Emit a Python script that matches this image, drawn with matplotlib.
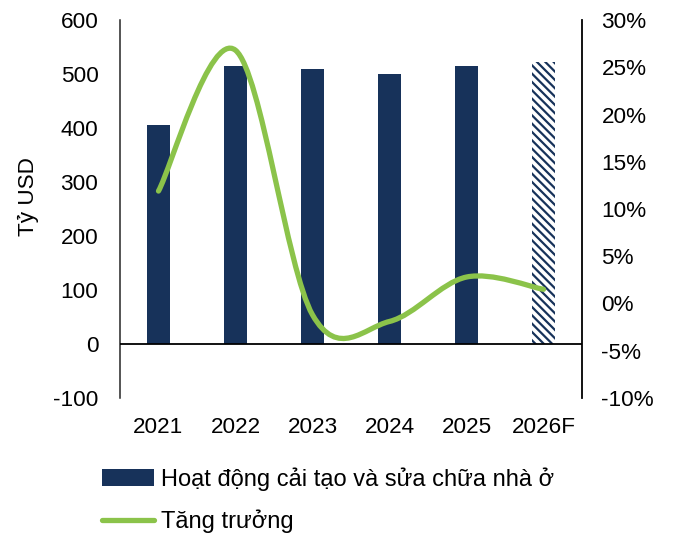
import matplotlib
matplotlib.use("Agg")
import matplotlib.pyplot as plt
from matplotlib.path import Path
from matplotlib.patches import PathPatch, Patch
from matplotlib.lines import Line2D
from matplotlib.ticker import FuncFormatter

plt.rcParams['font.family'] = ['Liberation Sans', 'DejaVu Sans']
plt.rcParams['hatch.linewidth'] = 1.6
plt.rcParams['axes.unicode_minus'] = False

# Data
years = ["2021", "2022", "2023", "2024", "2025", "2026F"]
spending = [406, 515, 510, 500, 514, 522]          # tỷ USD
growth = [11.9, 26.8, -1.2, -1.9, 2.8, 1.5]        # %
bar_label = "Hoạt động cải tạo và sửa chữa nhà ở"
line_label = "Tăng trưởng"
left_ticks = [-100, 0, 100, 200, 300, 400, 500, 600]
right_ticks = [-10, -5, 0, 5, 10, 15, 20, 25, 30]

navy = "#17325A"
green = "#8BC34A"
fs = 16.2

fig = plt.figure(figsize=(6.73, 5.35), dpi=100)
ax = fig.add_axes([0.1783, 0.2561, 0.6865, 0.7065])
ax2 = ax.twinx()

x = list(range(len(years)))
n_actual = len(years) - 1
ax.bar(x[:n_actual], spending[:n_actual], width=0.31, color=navy, zorder=2)
ax.bar(x[n_actual:], spending[n_actual:], width=0.31, facecolor="white",
       edgecolor=navy, hatch="\\\\\\\\", linewidth=0, zorder=2)
ax.axhline(0, color="black", linewidth=1.3, zorder=3)

ax.set_xlim(-0.5, len(years) - 0.5)
ax.set_ylim(-100, 600)
ax.set_yticks(left_ticks)
ax.set_xticks(x)
ax.set_xticklabels(years)
ax.tick_params(axis="both", length=0, labelsize=fs)
ax.tick_params(axis="y", pad=15.5)
ax.tick_params(axis="x", pad=14)
for s in ["top", "bottom", "right"]:
    ax.spines[s].set_visible(False)
ax.spines["left"].set_color("#262626")
ax.spines["left"].set_linewidth(1.1)

# Smoothed growth line drawn as cubic Bezier segments (Catmull-Rom control points)
verts = [(x[0], growth[0])]
codes = [Path.MOVETO]
pts = list(zip(x, growth))
for i in range(len(pts) - 1):
    p0 = pts[i - 1] if i > 0 else pts[i]
    p1 = pts[i]
    p2 = pts[i + 1]
    p3 = pts[i + 2] if i + 2 < len(pts) else pts[i + 1]
    c1 = (p1[0] + (p2[0] - p0[0]) / 6, p1[1] + (p2[1] - p0[1]) / 6)
    c2 = (p2[0] - (p3[0] - p1[0]) / 6, p2[1] - (p3[1] - p1[1]) / 6)
    verts += [c1, c2, p2]
    codes += [Path.CURVE4] * 3
ax2.add_patch(PathPatch(Path(verts, codes), facecolor="none", edgecolor=green,
                        linewidth=3.8, capstyle="round", joinstyle="round", zorder=4))

ax2.set_ylim(-10, 30)
ax2.set_yticks(right_ticks)
ax2.yaxis.set_major_formatter(FuncFormatter(lambda v, p: f"{v:.0f}%"))
ax2.tick_params(axis="y", length=0, labelsize=fs, pad=14)
for s in ["top", "bottom", "left"]:
    ax2.spines[s].set_visible(False)
ax2.spines["right"].set_color("black")
ax2.spines["right"].set_linewidth(1.3)

fig.text(28 / 673, 1 - 197 / 535, "Tỷ USD", rotation=90, fontsize=fs,
         ha="center", va="center")

handles = [Patch(facecolor=navy, edgecolor="none"),
           Line2D([0], [0], color=green, linewidth=3.8, solid_capstyle="round")]
fig.legend(handles, [bar_label, line_label], loc="upper left",
           bbox_to_anchor=(0.152, 1 - 467 / 535), frameon=False, fontsize=17,
           handlelength=2.2, handletextpad=0.3, labelspacing=0.8,
           borderpad=0, borderaxespad=0)

fig.savefig("out.png", dpi=100)
